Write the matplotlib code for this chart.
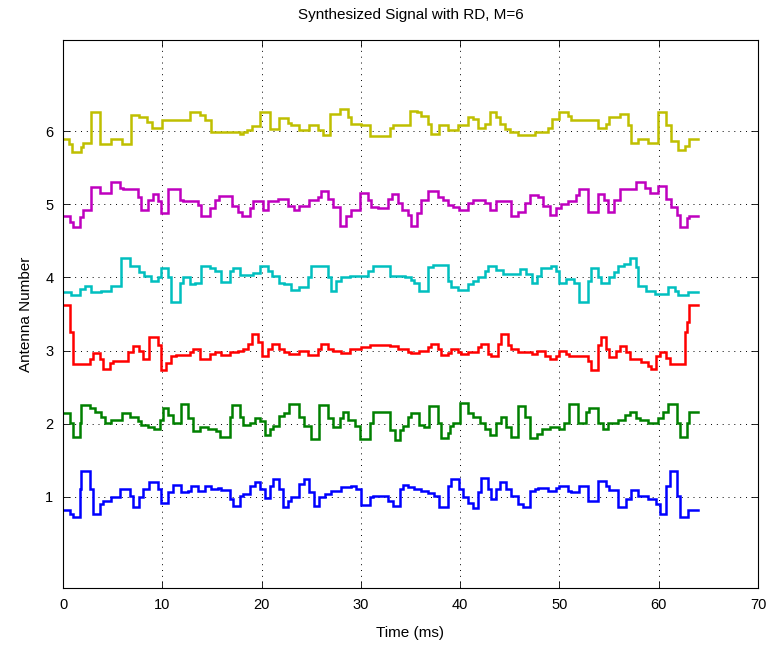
import matplotlib
matplotlib.use("Agg")
import matplotlib.pyplot as plt
import numpy as np

plt.rcParams['font.family'] = ['Liberation Sans', 'DejaVu Sans']

# Step change times (ms) and level offsets around each antenna's baseline
t_ant1 = [0, 0.67, 1.0, 1.68, 1.85, 2.7, 3.0, 3.7, 4.03, 4.87, 5.7, 6.7, 7.05, 7.7, 8.05, 8.7, 9.57, 9.9,
          10.57, 11.1, 11.9, 12.6, 12.9, 13.6, 14.3, 14.9, 15.6, 15.95, 16.8, 17.1, 17.8, 18.1, 18.8, 19.3,
          19.8, 20.3, 20.8, 21.15, 21.8, 22.15, 22.66, 23.0, 23.8, 24.3, 24.8, 25.3, 25.8, 26.35, 27.0, 28.0,
          29.0, 29.5, 30.0, 30.9, 31.2, 31.7, 32.7, 33.2, 33.9, 34.2, 34.7, 35.4, 36.1, 36.8, 37.4, 37.9,
          38.8, 39.1, 39.9, 40.3, 40.8, 41.3, 41.8, 42.1, 42.8, 43.1, 43.6, 44.0, 44.6, 45.1, 45.8, 46.3,
          47.0, 47.5, 47.8, 48.8, 49.7, 50.0, 50.9, 51.2, 52.0, 52.9, 53.9, 54.7, 55.0, 55.9, 56.7, 57.2,
          57.9, 58.9, 59.7, 60.1, 60.75, 61.1, 61.8, 62.1, 62.9]
d_ant1 = [-0.18, -0.24, -0.28, 0.105, 0.355, 0.105, -0.24, -0.10, -0.055, -0.01, 0.105, 0.015, -0.145,
          -0.01, 0.105, 0.205, 0.105, -0.08, 0.06, 0.16, 0.07, 0.08, 0.14, 0.08, 0.14, 0.105, 0.12, 0.095,
          -0.03, -0.125, 0.015, 0.035, 0.15, 0.195, 0.105, -0.025, 0.15, 0.24, 0.105, -0.145, -0.055, -0.01,
          0.175, 0.235, 0.06, -0.125, -0.01, 0.035, 0.08, 0.13, 0.15, 0.105, -0.115, -0.01, 0.005, 0.015,
          -0.055, -0.125, 0.105, 0.16, 0.13, 0.105, 0.08, 0.05, 0.005, -0.135, 0.15, 0.235, 0.105, -0.01,
          -0.08, -0.16, 0.06, 0.25, 0.105, -0.03, 0.105, 0.195, 0.105, 0.015, -0.10, -0.135, 0.08, 0.105,
          0.12, 0.08, 0.115, 0.15, 0.08, 0.06, 0.15, -0.055, 0.22, 0.15, 0.095, -0.145, -0.03, 0.095, 0.015,
          -0.03, -0.10, -0.24, 0.15, 0.355, 0.015, -0.28, -0.18]

t_ant2 = [0, 0.67, 1.0, 1.68, 1.85, 2.7, 3.2, 3.86, 4.2, 4.87, 5.9, 6.7, 7.55, 7.9, 8.56, 9.2, 9.73, 10.07,
          10.57, 11.1, 11.9, 12.6, 13.1, 13.8, 14.6, 15.4, 15.8, 16.8, 17.0, 17.8, 18.1, 18.8, 19.3, 19.8,
          20.3, 20.8, 21.15, 21.8, 22.3, 22.8, 23.8, 24.3, 25.0, 25.8, 26.7, 27.2, 27.9, 28.2, 28.7, 29.4,
          29.9, 30.9, 31.2, 32.9, 33.4, 33.9, 34.2, 34.7, 35.1, 35.9, 36.4, 36.9, 37.8, 38.1, 38.8, 39.0,
          39.3, 40.0, 40.8, 41.3, 42.0, 42.5, 43.0, 43.6, 44.1, 44.6, 45.1, 45.8, 46.5, 47.0, 47.7, 48.2,
          49.0, 50.0, 50.5, 51.0, 51.9, 52.7, 53.0, 53.9, 54.4, 54.9, 55.9, 56.6, 57.1, 57.7, 58.1, 58.9,
          59.9, 60.4, 60.9, 61.8, 62.1, 62.8, 63.1]
d_ant2 = [0.15, 0.005, -0.18, 0.005, 0.255, 0.21, 0.165, 0.095, 0.015, 0.05, 0.14, 0.095, 0.03, -0.02,
          -0.05, -0.08, 0.05, 0.21, 0.12, 0.015, 0.27, 0.07, -0.095, -0.05, -0.08, -0.095, -0.18, 0.095,
          0.255, 0.095, -0.02, 0.005, 0.07, 0.03, -0.155, -0.08, -0.03, 0.105, 0.15, 0.27, 0.095, -0.03,
          -0.215, 0.255, 0.07, -0.04, 0.07, 0.165, 0.05, -0.03, -0.215, 0.005, 0.165, -0.085, -0.225, -0.085,
          -0.03, 0.095, 0.15, -0.02, -0.04, 0.24, 0.005, -0.2, -0.13, -0.03, 0.005, 0.28, 0.15, 0.095, 0.005,
          -0.08, -0.155, 0.005, 0.087, -0.04, -0.18, 0.235, 0.095, -0.2, -0.14, -0.08, -0.05, -0.08, 0.005,
          0.27, 0.005, 0.165, 0.21, 0.005, -0.08, 0.005, 0.05, 0.12, 0.165, 0.07, 0.05, 0.005, 0.07, 0.165,
          0.27, 0.005, -0.19, 0.005, 0.165]

t_ant3 = [0, 0.67, 1.0, 2.7, 3.0, 3.7, 4.0, 4.7, 5.0, 6.55, 7.05, 7.7, 8.05, 8.7, 9.57, 9.9, 10.4, 10.9,
          11.4, 12.75, 13.1, 13.8, 14.8, 15.3, 15.95, 16.8, 17.6, 18.1, 18.6, 19.0, 19.6, 20.0, 20.6, 21.0,
          21.8, 22.3, 22.8, 23.8, 24.7, 25.7, 26.0, 26.7, 27.2, 28.0, 28.9, 30.0, 30.9, 32.9, 33.7, 34.7,
          35.1, 35.9, 36.8, 37.1, 37.8, 38.1, 38.8, 39.1, 39.8, 40.1, 40.8, 41.8, 42.1, 42.8, 43.1, 43.8,
          44.1, 44.8, 45.1, 45.8, 46.5, 47.2, 47.7, 48.5, 49.0, 49.7, 50.0, 50.7, 51.0, 52.9, 53.2, 53.9,
          54.2, 54.7, 55.0, 55.7, 56.1, 56.7, 57.1, 58.2, 58.9, 59.2, 59.7, 60.1, 60.75, 61.1, 62.6, 62.8,
          63.1]
d_ant3 = [0.625, 0.25, -0.18, -0.115, -0.03, -0.115, -0.25, -0.17, -0.14, -0.02, 0.06, 0.0, -0.115, 0.18,
          0.07, -0.26, -0.17, -0.07, -0.06, -0.015, 0.015, -0.115, -0.045, -0.015, -0.06, -0.02, 0.0, 0.02,
          0.09, 0.23, 0.11, -0.08, 0.02, 0.09, 0.015, -0.015, -0.045, 0.0, -0.06, 0.02, 0.09, 0.02, 0.0,
          -0.03, 0.015, 0.045, 0.08, 0.06, 0.015, -0.015, -0.03, 0.0, 0.045, 0.09, 0.02, -0.06, -0.03, 0.015,
          -0.015, -0.045, -0.015, 0.045, 0.09, -0.045, -0.07, 0.09, 0.23, 0.07, 0.015, -0.015, -0.02, -0.045,
          0.0, -0.07, -0.12, -0.07, 0.0, -0.045, -0.07, -0.15, -0.27, 0.07, 0.18, 0.02, -0.09, 0.0, 0.06,
          -0.02, -0.115, -0.16, -0.205, -0.25, -0.07, -0.02, -0.105, -0.18, 0.25, 0.39, 0.625]

t_ant4 = [0, 0.84, 1.68, 2.2, 2.86, 3.86, 4.87, 5.88, 6.7, 7.7, 8.2, 8.9, 9.57, 9.9, 10.57, 10.9, 11.75,
          12.1, 12.75, 13.25, 13.9, 14.8, 15.3, 15.9, 16.8, 17.1, 17.8, 19.1, 19.8, 20.6, 21.0, 21.8, 22.3,
          23.0, 23.8, 24.7, 25.0, 26.7, 27.0, 27.5, 28.0, 28.9, 30.7, 31.2, 32.9, 34.4, 35.1, 35.4, 35.9,
          36.8, 37.3, 38.8, 39.1, 39.8, 40.8, 41.3, 41.8, 42.5, 42.8, 43.6, 44.3, 46.0, 46.65, 47.2, 47.7,
          48.1, 49.2, 49.7, 50.0, 50.7, 51.5, 52.0, 52.9, 53.2, 53.9, 54.2, 55.0, 55.5, 55.9, 56.5, 57.1,
          57.7, 57.9, 58.7, 59.6, 60.9, 61.6, 61.9, 62.9]
d_ant4 = [-0.205, -0.24, -0.16, -0.11, -0.20, -0.18, -0.11, 0.265, 0.16, 0.07, 0.02, -0.055, 0.0, 0.13,
          0.0, -0.33, -0.07, 0.0, -0.09, -0.07, 0.16, 0.13, 0.09, -0.065, 0.09, 0.13, 0.04, 0.055, 0.16,
          0.09, 0.02, -0.07, -0.09, -0.17, -0.13, 0.0, 0.16, 0.0, -0.18, -0.055, 0.0, 0.02, 0.09, 0.16,
          0.02, 0.01, -0.035, -0.07, -0.18, 0.145, 0.17, -0.045, -0.13, -0.17, -0.09, -0.055, 0.0, 0.09,
          0.16, 0.10, 0.045, 0.11, 0.045, -0.07, 0.02, 0.13, 0.16, 0.09, -0.08, -0.02, -0.07, -0.33, -0.045,
          0.13, 0.0, -0.07, 0.0, 0.07, 0.16, 0.19, 0.27, 0.14, -0.11, -0.18, -0.22, -0.13, -0.18, -0.24,
          -0.205]

t_ant5 = [0, 0.67, 1.0, 1.68, 2.0, 2.86, 3.7, 4.8, 5.7, 6.04, 7.55, 7.9, 8.56, 9.06, 9.57, 9.9, 10.57,
          11.75, 12.1, 13.6, 13.93, 14.77, 15.27, 15.7, 17.0, 17.6, 18.0, 18.8, 19.1, 20.1, 20.6, 21.65,
          22.66, 23.3, 23.8, 24.8, 25.7, 26.0, 26.7, 27.2, 27.9, 28.5, 29.0, 29.9, 30.7, 31.05, 31.7, 32.7,
          33.1, 33.7, 34.1, 34.7, 35.1, 35.7, 36.1, 36.8, 37.8, 38.3, 38.8, 39.3, 39.9, 40.8, 41.3, 42.5,
          43.0, 43.6, 45.1, 45.8, 46.5, 47.0, 47.8, 48.3, 49.0, 49.7, 50.2, 50.9, 51.7, 52.0, 52.9, 53.9,
          54.5, 54.9, 55.5, 56.1, 57.7, 58.6, 59.1, 59.9, 60.75, 61.25, 61.8, 62.1, 62.8, 63.1]
d_ant5 = [-0.16, -0.24, -0.31, -0.17, -0.07, 0.24, 0.15, 0.31, 0.23, 0.21, 0.105, -0.08, 0.06, 0.14, 0.04,
          -0.12, 0.21, 0.06, 0.04, -0.01, -0.16, -0.05, 0.06, 0.12, -0.02, -0.10, -0.16, -0.055, 0.04, -0.08,
          0.04, 0.07, -0.02, -0.07, -0.02, 0.06, 0.105, 0.19, 0.08, -0.03, -0.30, -0.16, -0.08, 0.16, 0.06,
          -0.04, -0.055, 0.08, 0.14, 0.015, -0.08, -0.15, -0.30, -0.12, 0.06, 0.19, 0.105, 0.06, -0.01,
          -0.03, -0.08, 0.02, 0.06, 0.02, -0.08, 0.04, -0.16, -0.10, 0.015, 0.13, 0.105, -0.02, -0.15,
          -0.055, 0.005, 0.04, 0.13, 0.21, -0.11, 0.14, 0.06, -0.10, 0.06, 0.21, 0.31, 0.23, 0.16, 0.25,
          0.08, -0.03, -0.15, -0.31, -0.19, -0.16]

t_ant6 = [0, 0.6, 0.9, 1.8, 2.0, 2.85, 3.75, 4.8, 5.9, 6.8, 7.7, 8.5, 9.0, 10.0, 12.8, 13.8, 14.3, 14.95,
          17.8, 18.1, 18.5, 19.0, 19.8, 20.8, 21.8, 22.7, 23.0, 23.8, 24.8, 25.7, 26.2, 26.9, 27.9, 28.7,
          29.0, 30.0, 30.9, 32.9, 33.2, 34.9, 35.7, 36.1, 36.8, 37.1, 37.9, 38.8, 39.8, 40.8, 41.3, 41.8,
          42.5, 43.0, 43.6, 44.0, 44.5, 45.0, 45.8, 47.5, 48.8, 49.3, 50.0, 50.9, 51.2, 53.9, 54.7, 55.0,
          56.1, 56.9, 57.2, 57.9, 58.9, 59.9, 60.7, 61.2, 61.9, 62.6, 63.1]
d_ant6 = [-0.10, -0.17, -0.28, -0.22, -0.16, 0.26, -0.17, -0.10, -0.17, 0.22, 0.19, 0.13, 0.04, 0.16, 0.26,
          0.22, 0.16, -0.01, -0.04, -0.01, 0.02, 0.07, 0.27, 0.03, 0.18, 0.12, 0.09, 0.02, 0.09, 0.02, -0.05,
          0.24, 0.30, 0.19, 0.10, 0.08, -0.06, 0.05, 0.08, 0.28, 0.26, 0.21, 0.10, -0.04, 0.08, 0.02, 0.08,
          0.19, 0.17, 0.05, 0.10, 0.27, 0.19, 0.10, 0.03, -0.01, -0.05, -0.01, 0.04, 0.17, 0.27, 0.21, 0.16,
          0.04, 0.10, 0.19, 0.24, 0.08, -0.16, -0.10, -0.16, 0.27, 0.08, -0.13, -0.26, -0.20, -0.10]

t_end = 64.0
antennas = [1, 2, 3, 4, 5, 6]
colors = [(0, 0, 1), (0, 0.5, 0), (1, 0, 0), (0, 0.75, 0.75), (0.75, 0, 0.75), (0.75, 0.75, 0)]
times = [t_ant1, t_ant2, t_ant3, t_ant4, t_ant5, t_ant6]
levels = [d_ant1, d_ant2, d_ant3, d_ant4, d_ant5, d_ant6]

xticks = [0, 10, 20, 30, 40, 50, 60, 70]
yticks = [1, 2, 3, 4, 5, 6]

fig = plt.figure(figsize=(7.73, 6.51), dpi=100)
ax = fig.add_axes([63 / 773, 63 / 651, 695 / 773, 548 / 651])

for ant, t, d, c in zip(antennas, times, levels, colors):
    tt = np.append(np.asarray(t, float), t_end)
    yy = ant + np.append(np.asarray(d, float), d[-1])
    ax.step(tt, yy, where='post', color=c, lw=1.8, solid_joinstyle='miter')

ax.set_xlim(0, 70)
ax.set_ylim(-0.25, 7.25)
ax.set_xticks(xticks)
ax.set_yticks(yticks)
ax.grid(True, color='black', linestyle=(0, (1, 5)), linewidth=0.7)
ax.tick_params(direction='in', length=5, width=0.6, top=True, right=True,
               labelsize=10.5, pad=7)
for s in ax.spines.values():
    s.set_linewidth(0.8)
    s.set_color('black')

ax.set_title('Synthesized Signal with RD, M=6', fontsize=11, pad=15)
ax.set_xlabel('Time (ms)', fontsize=11, labelpad=10)
ax.set_ylabel('Antenna Number', fontsize=11, labelpad=9)

fig.savefig('out.png', dpi=100)
